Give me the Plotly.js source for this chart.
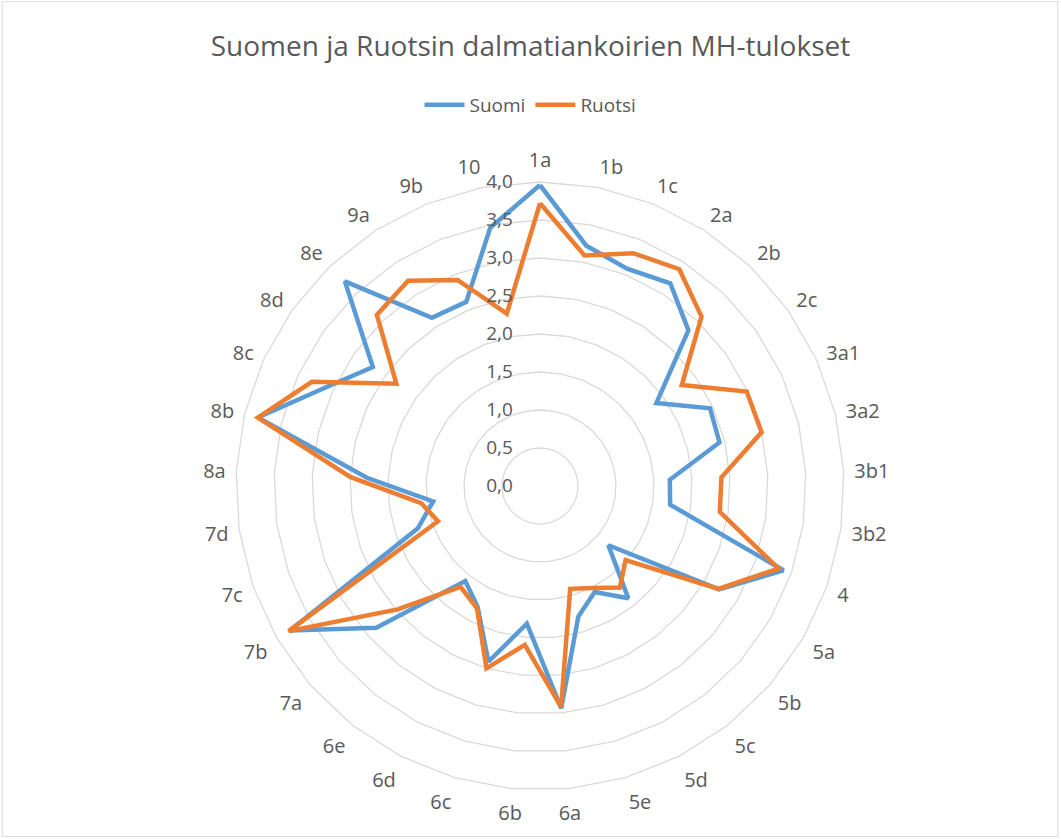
<!DOCTYPE html>
<html>
<head>
<meta charset="utf-8">
<script src="https://cdn.plot.ly/plotly-3.0.1.min.js"></script>
<style>
html,body{margin:0;padding:0;background:#fff;}
#chart{width:1061px;height:839px;}
</style>
</head>
<body>
<div id="chart"></div>
<script>
var categories = ["1a","1b","1c","2a","2b","2c","3a1","3a2","3b1","3b2","4","5a","5b","5c","5d","5e","6a","6b","6c","6d","6e","7a","7b","7c","7d","8a","8b","8c","8d","8e","9a","9b","10"];
var suomi = [3.96,3.22,3.08,3.17,2.83,1.88,2.46,2.43,1.71,1.73,3.39,2.72,1.19,1.88,1.57,1.79,2.94,1.82,2.41,1.79,1.59,2.85,3.80,1.70,1.42,2.28,3.82,3.11,2.70,3.72,2.63,2.61,3.46];
var ruotsi = [3.72,3.09,3.30,3.39,3.08,2.29,2.99,3.00,2.39,2.39,3.32,2.71,1.49,1.70,1.51,1.41,2.92,2.10,2.50,1.81,1.69,2.48,3.82,1.42,1.58,2.50,3.82,3.30,2.32,3.11,3.21,2.92,2.31];
var seriesNames = ["Suomi","Ruotsi"];
var titleText = "Suomen ja Ruotsin dalmatiankoirien MH-tulokset";

function closed(arr){ return arr.concat([arr[0]]); }

var FONT = "'Open Sans', sans-serif";
var traces = [
  {type:"scatterpolar", name:seriesNames[0], r:closed(suomi), theta:closed(categories), mode:"lines",
   line:{color:"#5B9BD5", width:4.5}},
  {type:"scatterpolar", name:seriesNames[1], r:closed(ruotsi), theta:closed(categories), mode:"lines",
   line:{color:"#ED7D31", width:4.5}}
];

var layout = {
  width:1061, height:839,
  margin:{l:0,r:0,t:0,b:0},
  paper_bgcolor:"#ffffff",
  separators:", ",
  font:{family:FONT, color:"#595959", size:16},
  title:{text:titleText, x:0.5, xanchor:"center", y:0.945, yanchor:"middle", yref:"container",
         font:{family:FONT, size:28, color:"#595959"}},
  showlegend:true,
  legend:{orientation:"h", x:0.5, xanchor:"center", y:0.875, yanchor:"middle",
          font:{family:FONT, size:19, color:"#595959"}, itemwidth:40, tracegroupgap:0},
  polar:{
    domain:{x:[0.2224,0.7955], y:[0.0584,0.7831]},
    bgcolor:"#ffffff",
    gridshape:"linear",
    radialaxis:{range:[0,4], tick0:0, dtick:0.5, tickformat:".1f", angle:90, tickangle:90,
                showline:false, ticks:"outside", ticklen:20, tickcolor:"rgba(0,0,0,0)", gridcolor:"#D9D9D9", gridwidth:1.3,
                tickfont:{family:FONT, size:19, color:"#595959"}, side:"counterclockwise"},
    angularaxis:{rotation:90, direction:"clockwise", showgrid:false, showline:true,
                 linecolor:"#D9D9D9", linewidth:1.3, ticks:"outside", ticklen:6,
                 tickcolor:"rgba(0,0,0,0)", tickfont:{family:FONT, size:20, color:"#595959"}}
  },
  shapes:[{type:"rect", xref:"paper", yref:"paper", x0:0.002, x1:0.997, y0:0.003, y1:0.998,
           line:{color:"#D9D9D9", width:1}, fillcolor:"rgba(0,0,0,0)"}]
};

Plotly.newPlot("chart", traces, layout, {displayModeBar:false, staticPlot:true});
</script>
</body>
</html>
